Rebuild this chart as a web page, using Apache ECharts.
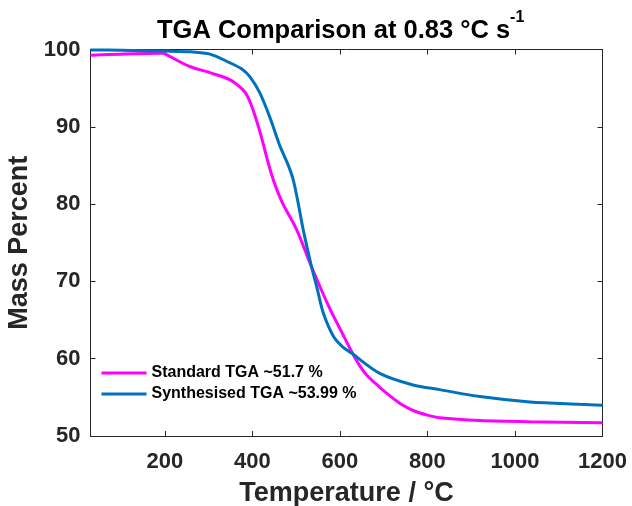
<!DOCTYPE html>
<html>
<head>
<meta charset="utf-8">
<script src="https://cdn.jsdelivr.net/npm/echarts@6/dist/echarts.min.js"></script>
<style>html,body{margin:0;padding:0;background:#fff;}#c{width:632px;height:506px;}</style>
</head>
<body>
<div id="c"></div>
<script>
// Data
var stdTemp = [30, 100, 195, 211, 257, 303, 348, 378, 390, 405, 420, 432, 444, 455, 470, 501, 535, 575, 607, 627, 644, 661, 691, 714, 740, 767, 800, 828, 920, 1034, 1200];
var stdMass = [99.26, 99.4, 99.5, 99.1, 97.8, 97.0, 96.1, 94.8, 93.8, 91.6, 88.8, 86.2, 83.8, 82.0, 80.0, 76.7, 71.9, 66.7, 63.1, 60.9, 59.2, 57.9, 56.3, 55.2, 54.1, 53.3, 52.7, 52.35, 52.0, 51.85, 51.7];
var synTemp = [30, 100, 200, 260, 303, 348, 375, 394, 417, 440, 463, 480, 493, 505, 516, 535, 547, 562, 585, 605, 627, 691, 767, 828, 920, 1034, 1148, 1200];
var synMass = [99.95, 99.9, 99.8, 99.7, 99.4, 98.3, 97.5, 96.5, 94.4, 91.2, 87.5, 85.3, 83.2, 80.0, 76.7, 71.9, 69.3, 65.9, 62.9, 61.6, 60.7, 58.1, 56.6, 56.0, 55.1, 54.4, 54.1, 53.99];
var xTicks = [200, 400, 600, 800, 1000, 1200];
var yTicks = [50, 60, 70, 80, 90, 100];
var seriesNames = ['Standard TGA ~51.7 %', 'Synthesised TGA ~53.99 %'];
var titleMain = 'TGA Comparison at 0.83 \u00B0C s';
var titleSup = '-1';
var xName = 'Temperature / \u00B0C';
var yName = 'Mass Percent';

function pairs(xs, ys) { return xs.map(function (x, i) { return [x, ys[i]]; }); }

var axisColor = '#262626';
var font = 'Liberation Sans, Arial, sans-serif';
var chart = echarts.init(document.getElementById('c'), null, {renderer: 'canvas'});
var xBase = {
  type: 'value', min: 30, max: 1200,
  axisLine: {show: true, lineStyle: {color: axisColor, width: 1}},
  splitLine: {show: false},
  axisTick: {show: true, inside: true, length: 5, customValues: xTicks, lineStyle: {color: axisColor}}
};
var yBase = {
  type: 'value', min: 50, max: 100, interval: 10,
  axisLine: {show: true, lineStyle: {color: axisColor, width: 1}},
  splitLine: {show: false},
  axisTick: {show: true, inside: true, length: 5, customValues: yTicks, lineStyle: {color: axisColor}}
};
chart.setOption({
  animation: false,
  backgroundColor: '#ffffff',
  title: {
    left: 157, top: 10, padding: 0,
    text: '{a|' + titleMain + '}{b|' + titleSup + '}',
    textStyle: {
      rich: {
        a: {fontFamily: font, fontWeight: 'bold', fontSize: 25.5, color: '#000', lineHeight: 34, verticalAlign: 'bottom'},
        b: {fontFamily: font, fontWeight: 'bold', fontSize: 16, color: '#000', lineHeight: 14, verticalAlign: 'top'}
      }
    }
  },
  grid: {left: 90.5, right: 29.5, top: 49.5, bottom: 70, containLabel: false, outerBoundsMode: 'none'},
  legend: {
    left: 100, top: 365, padding: 0, orient: 'vertical', itemWidth: 45, itemHeight: 16, itemGap: 5,
    data: seriesNames,
    itemStyle: {opacity: 0},
    lineStyle: {width: 3},
    textStyle: {fontFamily: font, fontWeight: 'bold', fontSize: 16, color: '#000', lineHeight: 16}
  },
  xAxis: [
    Object.assign({}, xBase, {
      position: 'bottom',
      name: xName, nameLocation: 'middle', nameGap: 44,
      nameTextStyle: {fontFamily: font, fontWeight: 'bold', fontSize: 27, color: axisColor},
      axisLabel: {show: true, customValues: xTicks, margin: 15, fontFamily: font, fontWeight: 'bold', fontSize: 22, color: axisColor,
        formatter: function (v) { return String(v); }}
    }),
    Object.assign({}, xBase, {position: 'top', axisLabel: {show: false}})
  ],
  yAxis: [
    Object.assign({}, yBase, {
      position: 'left',
      name: yName, nameLocation: 'middle', nameGap: 51,
      nameTextStyle: {fontFamily: font, fontWeight: 'bold', fontSize: 27, color: axisColor},
      axisLabel: {show: true, customValues: yTicks, margin: 10, fontFamily: font, fontWeight: 'bold', fontSize: 22, color: axisColor,
        formatter: function (v) { return String(v); }}
    }),
    Object.assign({}, yBase, {position: 'right', axisLabel: {show: false}})
  ],
  series: [
    {
      name: seriesNames[0], type: 'line', data: pairs(stdTemp, stdMass),
      xAxisIndex: 0, yAxisIndex: 0, smooth: 0.3, symbol: 'none', clip: false,
      color: '#FF00FF', lineStyle: {width: 3, color: '#FF00FF'}
    },
    {
      name: seriesNames[1], type: 'line', data: pairs(synTemp, synMass),
      xAxisIndex: 0, yAxisIndex: 0, smooth: 0.3, symbol: 'none', clip: false,
      color: '#0072BD', lineStyle: {width: 3, color: '#0072BD'}
    }
  ]
});
</script>
</body>
</html>
